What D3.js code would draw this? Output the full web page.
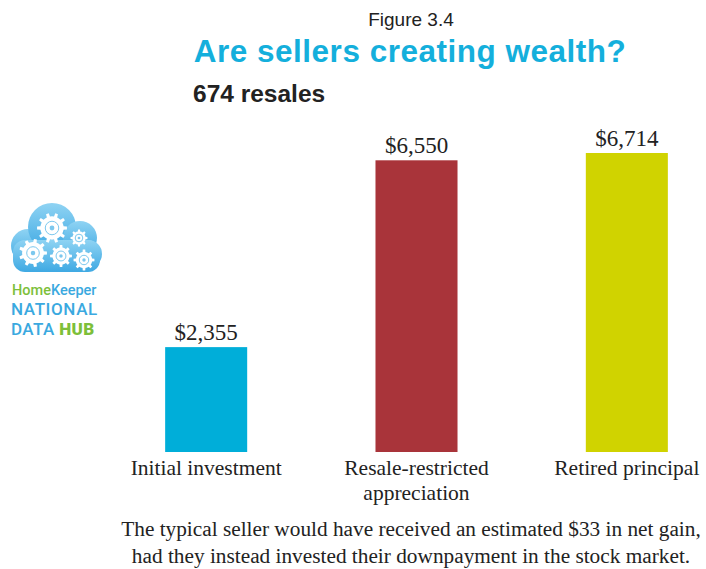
<!DOCTYPE html>
<html>
<head>
<meta charset="utf-8">
<script src="https://cdn.jsdelivr.net/npm/d3@7"></script>
<style>
  body { margin: 0; background: #fff; }
  svg { display: block; }
</style>
</head>
<body>
<div id="chart"></div>
<script>
// Data
var categories = ["Initial investment", "Resale-restricted appreciation", "Retired principal"];
var categoryLines = [["Initial investment"], ["Resale-restricted", "appreciation"], ["Retired principal"]];
var values = [2355, 6550, 6714];
var barColors = ["#00aed9", "#a9343a", "#d0d300"];
var footnote = ["The typical seller would have received an estimated $33 in net gain,",
                "had they instead invested their downpayment in the stock market."];

// Dimensions
var W = 706, H = 569;
var baseline = 452;

var svg = d3.select("#chart").append("svg")
  .attr("width", W)
  .attr("height", H);

// Scales
var x = d3.scaleBand()
  .domain(categories)
  .range([101, 732])
  .paddingInner(0.61)
  .paddingOuter(0.305);

var y = d3.scaleLinear()
  .domain([0, 6714])
  .range([baseline, 153]);

var fmt = d3.format("$,");

// Titles
svg.append("text")
  .attr("x", 411).attr("y", 26)
  .attr("text-anchor", "middle")
  .style("font-family", "'Liberation Sans', Arial, sans-serif")
  .style("font-size", "19px")
  .attr("fill", "#222")
  .text("Figure 3.4");

svg.append("text")
  .attr("x", 410).attr("y", 62)
  .attr("text-anchor", "middle")
  .style("font-family", "'Liberation Sans', Arial, sans-serif")
  .style("font-size", "31.5px")
  .style("font-weight", "bold")
  .style("letter-spacing", "0.5px")
  .attr("fill", "#14afdc")
  .text("Are sellers creating wealth?");

svg.append("text")
  .attr("x", 193).attr("y", 102)
  .style("font-family", "'Liberation Sans', Arial, sans-serif")
  .style("font-size", "24.5px")
  .style("font-weight", "bold")
  .attr("fill", "#222")
  .text("674 resales");

// Bars
var bars = svg.append("g");
bars.selectAll("rect")
  .data(values).enter().append("rect")
  .attr("x", function(d, i) { return x(categories[i]); })
  .attr("y", function(d) { return y(d); })
  .attr("width", x.bandwidth())
  .attr("height", function(d) { return baseline - y(d); })
  .attr("fill", function(d, i) { return barColors[i]; });

// Value labels
bars.selectAll(".val")
  .data(values).enter().append("text")
  .attr("class", "val")
  .attr("x", function(d, i) { return x(categories[i]) + x.bandwidth() / 2; })
  .attr("y", function(d) { return y(d) - 7; })
  .attr("text-anchor", "middle")
  .style("font-family", "'Liberation Serif', 'Times New Roman', serif")
  .style("font-size", "23px")
  .attr("fill", "#222")
  .text(function(d) { return fmt(d); });

// Category labels
var cat = svg.append("g");
cat.selectAll("text")
  .data(categoryLines).enter().append("text")
  .attr("x", function(d, i) { return x(categories[i]) + x.bandwidth() / 2; })
  .attr("y", 475)
  .attr("text-anchor", "middle")
  .style("font-family", "'Liberation Serif', 'Times New Roman', serif")
  .style("font-size", "21.5px")
  .attr("fill", "#222")
  .each(function(lines) {
    var t = d3.select(this), xx = t.attr("x");
    lines.forEach(function(l, j) {
      t.append("tspan").attr("x", xx).attr("dy", j ? 25 : 0).text(l);
    });
  });

// Footnote
svg.append("g").selectAll("text")
  .data(footnote).enter().append("text")
  .attr("x", 411)
  .attr("y", function(d, i) { return 536 + i * 27; })
  .attr("text-anchor", "middle")
  .style("font-family", "'Liberation Serif', 'Times New Roman', serif")
  .style("font-size", "21.3px")
  .attr("fill", "#222")
  .text(function(d) { return d; });

// Logo (cloud with gears)
var logo = svg.append("g");
var defs = svg.append("defs");
var grad = defs.append("linearGradient").attr("id", "cloudGrad")
  .attr("x1", 0).attr("y1", 0).attr("x2", 0).attr("y2", 1);
grad.append("stop").attr("offset", "0%").attr("stop-color", "#8fd3f3");
grad.append("stop").attr("offset", "100%").attr("stop-color", "#3fa9e3");

var cloud = logo.append("g").attr("fill", "url(#cloudGrad)");
cloud.append("circle").attr("cx", 28).attr("cy", 246).attr("r", 17);
cloud.append("circle").attr("cx", 52).attr("cy", 227).attr("r", 24);
cloud.append("circle").attr("cx", 80).attr("cy", 238).attr("r", 17);
cloud.append("circle").attr("cx", 88).attr("cy", 254).attr("r", 14);
cloud.append("rect").attr("x", 13).attr("y", 240).attr("width", 87).attr("height", 32).attr("rx", 12);

function gearPath(cx, cy, rOut, rIn, n) {
  var pts = [];
  for (var k = 0; k < n; k++) {
    var a = (k / n) * 2 * Math.PI, s = Math.PI / n;
    pts.push([a - s * 0.45, rIn], [a - s * 0.3, rOut], [a + s * 0.3, rOut], [a + s * 0.45, rIn], [a + s, rIn]);
  }
  var p = d3.path();
  pts.forEach(function(q, i) {
    var px = cx + q[1] * Math.cos(q[0]), py = cy + q[1] * Math.sin(q[0]);
    if (i === 0) p.moveTo(px, py); else p.lineTo(px, py);
  });
  p.closePath();
  return p.toString();
}

var gears = [
  {cx: 52, cy: 228, r: 15, n: 10},
  {cx: 33, cy: 253, r: 14, n: 9},
  {cx: 61, cy: 256, r: 11, n: 8},
  {cx: 79, cy: 238, r: 8.5, n: 8},
  {cx: 84, cy: 260, r: 10.5, n: 8}
];
gears.forEach(function(g) {
  logo.append("path")
    .attr("d", gearPath(g.cx, g.cy, g.r, g.r * 0.78, g.n))
    .attr("fill", "#fff");
  logo.append("circle").attr("cx", g.cx).attr("cy", g.cy).attr("r", g.r * 0.45)
    .attr("fill", "none").attr("stroke", "#7cc8ee").attr("stroke-width", 1);
  logo.append("circle").attr("cx", g.cx).attr("cy", g.cy).attr("r", g.r * 0.16)
    .attr("fill", "#7cc8ee");
});

var logoFont = "Roboto, 'Liberation Sans', Arial, sans-serif";
var t1 = logo.append("text").attr("x", 12).attr("y", 295)
  .style("font-family", logoFont).style("font-size", "14.5px").style("font-weight", 500)
  .style("letter-spacing", "0px");
t1.append("tspan").attr("fill", "#7dbf3a").text("Home");
t1.append("tspan").attr("fill", "#3aa9e0").text("Keeper");

logo.append("text").attr("x", 11).attr("y", 315)
  .style("font-family", logoFont).style("font-size", "17px").style("font-weight", 500)
  .style("letter-spacing", "0.6px")
  .attr("fill", "#3aa9e0")
  .text("NATIONAL");

var t3 = logo.append("text").attr("x", 11).attr("y", 335)
  .style("font-family", logoFont).style("font-size", "17px").style("font-weight", 500)
  .style("letter-spacing", "0.4px");
t3.append("tspan").attr("fill", "#3aa9e0").text("DATA ");
t3.append("tspan").attr("fill", "#7dbf3a").style("font-weight", 900).text("HUB");
</script>
</body>
</html>
